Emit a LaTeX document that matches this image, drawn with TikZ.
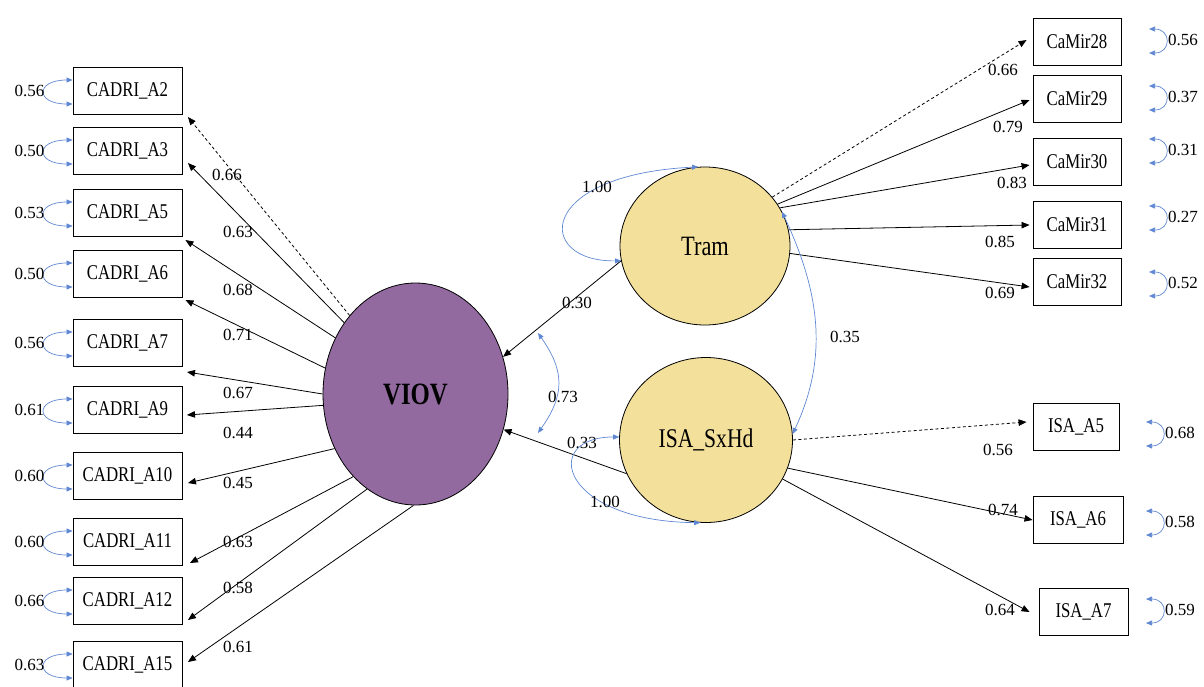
\documentclass[tikz,border=0pt]{standalone}
\usepackage{fontspec}
\setmainfont{Liberation Serif}[FakeStretch=0.8]
\newfontfamily\numfont{Liberation Serif}
\usetikzlibrary{arrows.meta,calc,shapes.geometric}
\definecolor{viovfill}{RGB}{146,106,160}
\definecolor{latfill}{RGB}{243,224,155}
\definecolor{covblue}{RGB}{95,135,210}
\tikzset{
  ind/.style={draw=black, line width=0.9pt, minimum height=47pt, inner sep=0pt, font=\fontsize{21}{23}\selectfont},
  lat/.style={ellipse, draw=black, line width=0.8pt, inner sep=0pt},
  load/.style={draw=black, line width=0.8pt, -{Triangle[length=8pt,width=6.5pt]}},
  dload/.style={load, dash pattern=on 3pt off 2.5pt},
  cov/.style={draw=covblue, line width=0.7pt, {Triangle[length=6pt,width=5pt]}-{Triangle[length=6pt,width=5pt]}},
  num/.style={font=\numfont\fontsize{17}{17}\selectfont, inner sep=0pt},
}
\newcommand\leftvar[3]{%
  \draw[cov] ($(#1.west)+(0,-11)$) to[out=180,in=180,looseness=4] ($(#1.west)+(0,13)$);
  \node[num] (#1v) at ($(#1.west)+(-43,0)$) {#2};
}
\newcommand\rightvar[4]{%
  \node[num] (#1v) at (#3,#4) {#2};
  \draw[cov] ($(#1v.center)+(-34,-11)$) to[out=0,in=0,looseness=2.4] ($(#1v.center)+(-34,13)$);
}
\begin{document}
\begin{tikzpicture}[x=1pt,y=-1pt]
\useasboundingbox (0,0) rectangle (1204,686);

% latent variables
\node[lat, fill=viovfill, minimum width=185pt, minimum height=222pt, font=\bfseries\fontsize{31}{31}\selectfont] (VIOV) at (415.5,394) {VIOV};
\node[lat, fill=latfill, minimum width=170pt, minimum height=158pt, font=\fontsize{28}{28}\selectfont] (Tram) at (705,246) {Tram};
\node[lat, fill=latfill, minimum width=173pt, minimum height=165pt, font=\fontsize{27}{27}\selectfont] (ISA) at (706,440) {ISA\_SxHd};

% left indicators
\node[ind, minimum width=109pt] (A2)  at (127.5,91)  {CADRI\_A2};
\node[ind, minimum width=109pt] (A3)  at (127.5,151) {CADRI\_A3};
\node[ind, minimum width=109pt] (A5)  at (127.5,213) {CADRI\_A5};
\node[ind, minimum width=109pt] (A6)  at (127.5,274) {CADRI\_A6};
\node[ind, minimum width=109pt] (A7)  at (127.5,343) {CADRI\_A7};
\node[ind, minimum width=109pt] (A9)  at (127.5,410) {CADRI\_A9};
\node[ind, minimum width=109pt] (A10) at (127.5,476) {CADRI\_A10};
\node[ind, minimum width=109pt] (A11) at (127.5,542) {CADRI\_A11};
\node[ind, minimum width=109pt] (A12) at (127.5,601) {CADRI\_A12};
\node[ind, minimum width=109pt] (A15) at (127.5,665) {CADRI\_A15};

% right indicators
\node[ind, minimum width=88pt] (C28) at (1077,42)  {CaMir28};
\node[ind, minimum width=88pt] (C29) at (1077,99)  {CaMir29};
\node[ind, minimum width=88pt] (C30) at (1077,162) {CaMir30};
\node[ind, minimum width=88pt] (C31) at (1077,225) {CaMir31};
\node[ind, minimum width=88pt] (C32) at (1077,282) {CaMir32};
\node[ind, minimum width=86pt] (I5) at (1076,427)   {ISA\_A5};
\node[ind, minimum width=90pt] (I6) at (1078,520)   {ISA\_A6};
\node[ind, minimum width=89pt] (I7) at (1083.5,612) {ISA\_A7};

% VIOV loadings
\draw[dload] (VIOV.130) -- ($(A2.east)+(5.5,26)$);
\draw[load] (VIOV.135) -- ($(A3.east)+(5.5,12)$);
\draw[load] (VIOV.145) -- ($(A5.east)+(3,27)$);
\draw[load] (VIOV.164) -- ($(A6.east)+(3,26)$);
\draw[load] (VIOV.180) -- ($(A7.east)+(4.5,29)$);
\draw[load] (VIOV.187) -- ($(A9.east)+(4.5,5)$);
\draw[load] (VIOV.214) -- ($(A10.east)+(5.5,7)$);
\draw[load] (VIOV.233) -- ($(A11.east)+(7.5,21)$);
\draw[load] (VIOV.243) -- ($(A12.east)+(5.5,19)$);
\draw[load] (VIOV.269) -- ($(A15.east)+(5.5,-3)$);

\node[num] (lA2)  at (227,175) {0.66};
\node[num] (lA3)  at (238,232) {0.63};
\node[num] (lA5)  at (238,290) {0.68};
\node[num] (lA6)  at (238,335) {0.71};
\node[num] (lA7)  at (238,393) {0.67};
\node[num] (lA9)  at (238,433) {0.44};
\node[num] (lA10) at (238,483) {0.45};
\node[num] (lA11) at (238,542) {0.63};
\node[num] (lA12) at (238,588) {0.58};
\node[num] (lA15) at (238,647) {0.61};

% left error variances
\leftvar{A2}{0.56}{}
\leftvar{A3}{0.50}{}
\leftvar{A5}{0.53}{}
\leftvar{A6}{0.50}{}
\leftvar{A7}{0.56}{}
\leftvar{A9}{0.61}{}
\leftvar{A10}{0.60}{}
\leftvar{A11}{0.60}{}
\leftvar{A12}{0.66}{}
\leftvar{A15}{0.63}{}

% Tram loadings
\draw[dload] (Tram.36) -- ($(C28.west)+(-6,-2)$);
\draw[load] (Tram.30) -- ($(C29.west)+(-3,1)$);
\draw[load] (Tram.27) -- ($(C30.west)+(-3,3)$);
\draw[load] (Tram.11) -- ($(C31.west)+(-3,0)$);
\draw[load] (Tram.355) -- ($(C32.west)+(-3,5)$);
\node[num] (lC28) at (1003,70)  {0.66};
\node[num] (lC29) at (1008,127) {0.79};
\node[num] (lC30) at (1012,183) {0.83};
\node[num] (lC31) at (1000,242) {0.85};
\node[num] (lC32) at (1000,293) {0.69};

% ISA loadings
\draw[dload] (ISA.0) -- ($(I5.west)+(-6,-5)$);
\draw[load] (ISA.341) -- ($(I6.west)+(0,0)$);
\draw[load] (ISA.333) -- ($(I7.west)+(-9,0)$);
\node[num] (lI5) at (998,450)  {0.56};
\node[num] (lI6) at (1003,510) {0.74};
\node[num] (lI7) at (1000,610) {0.64};

% right error variances
\rightvar{C28}{0.56}{1183}{40}
\rightvar{C29}{0.37}{1183}{97}
\rightvar{C30}{0.31}{1183}{150}
\rightvar{C31}{0.27}{1183}{217}
\rightvar{C32}{0.52}{1183}{283}
\rightvar{I5}{0.68}{1180}{433}
\rightvar{I6}{0.58}{1180}{522}
\rightvar{I7}{0.59}{1180}{610}

% structural paths
\draw[load] (Tram.190) -- (VIOV.23);
\node[num] (l30) at (577,303) {0.30};
\draw[load] (ISA.203) -- (VIOV.338);
\node[num] (l33) at (582,443) {0.33};

% latent variances
\draw[cov] (Tram.190) .. controls (535,262) and (535,175) .. (Tram.95);
\node[num] (lTv) at (597,187) {1.00};
\draw[cov] (ISA.178) .. controls (540,437) and (560,521) .. (ISA.266);
\node[num] (lIv) at (605,502) {1.00};

% covariances
\coordinate (c73a) at (538,333);
\coordinate (c73b) at (538,433);
\draw[cov] (c73a) to[out=-55,in=55,looseness=1.2] (c73b);
\node[num] (l73) at (563,397) {0.73};
\draw[cov] (Tram.24) to[out=-65,in=65] (ISA.4);
\node[num] (l35) at (845,337) {0.35};
\end{tikzpicture}
\end{document}
